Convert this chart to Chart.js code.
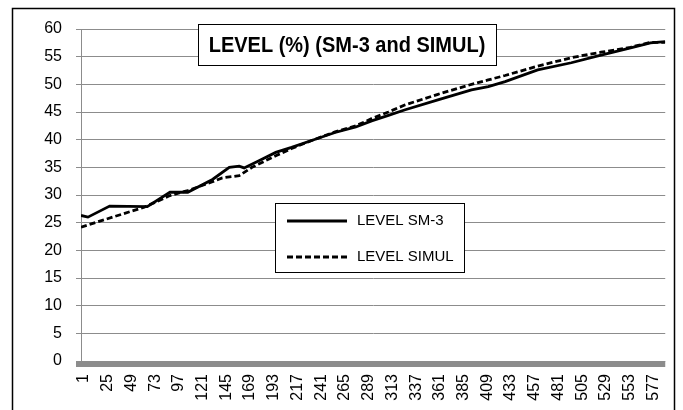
<!DOCTYPE html>
<html>
<head>
<meta charset="utf-8">
<title>LEVEL (%) (SM-3 and SIMUL)</title>
<script src="https://cdn.jsdelivr.net/npm/chart.js@4/dist/chart.umd.min.js"></script>
<style>
  html, body { margin: 0; padding: 0; background: #fff; }
  canvas { display: block; }
</style>
</head>
<body>
<canvas id="levelChart" width="683" height="410"></canvas>
<script>
// --- Data ---
const CHART_TITLE = "LEVEL (%) (SM-3 and SIMUL)";

// sample index (1..592) where each value was read
const sm3Index = [1, 8, 30, 68, 91, 109, 134, 151, 161, 166, 181, 198, 214, 235, 258, 279, 295, 312, 329, 362, 396, 413, 430, 463, 497, 523, 557, 577, 592];
const sm3Level = [26.3, 26.0, 28.0, 27.9, 30.5, 30.5, 32.8, 35.0, 35.2, 34.9, 36.2, 37.7, 38.6, 39.9, 41.3, 42.3, 43.4, 44.4, 45.4, 47.2, 49.0, 49.6, 50.5, 52.6, 53.9, 55.1, 56.6, 57.5, 57.7];

const simulIndex = [1, 65, 91, 109, 134, 144, 161, 174, 198, 214, 235, 258, 279, 295, 312, 329, 362, 396, 413, 430, 463, 497, 514, 527, 557, 577, 592];
const simulLevel = [24.2, 27.8, 29.9, 30.8, 32.4, 33.1, 33.5, 35.0, 37.1, 38.4, 39.9, 41.4, 42.5, 43.8, 45.0, 46.3, 48.2, 50.0, 50.8, 51.6, 53.3, 54.8, 55.4, 55.8, 56.7, 57.6, 57.6];

const seriesLabels = ["LEVEL SM-3", "LEVEL SIMUL"];
const xTickLabels = [1, 25, 49, 73, 97, 121, 145, 169, 193, 217, 241, 265, 289, 313, 337, 361, 385, 409, 433, 457, 481, 505, 529, 553, 577];
const X_FIRST = 1;
const X_LAST = 592;

const GRID_GRAY = '#8c8c8c';

function toPoints(xs, ys) {
    return xs.map((x, i) => ({ x: x, y: ys[i] }));
}

// --- Extras: floor band, title box, legend box, outer frame ---
const excelLook = {
    id: 'excelLook',
    beforeDatasetsDraw(chart) {
        const ctx = chart.ctx;
        const area = chart.chartArea;
        const y0 = chart.scales.y.getPixelForValue(0);
        ctx.save();
        ctx.fillStyle = GRID_GRAY;
        ctx.fillRect(area.left - 5, y0, area.right - area.left + 5, 6);
        ctx.restore();
    },
    afterDraw(chart) {
        const ctx = chart.ctx;
        ctx.save();

        // title box
        ctx.fillStyle = '#fff';
        ctx.fillRect(198, 24, 298, 41);
        ctx.strokeStyle = '#000';
        ctx.lineWidth = 1;
        ctx.strokeRect(198.5, 24.5, 298, 41);
        ctx.fillStyle = '#000';
        ctx.font = 'bold 20px "Liberation Sans", Arial, sans-serif';
        ctx.textAlign = 'center';
        ctx.textBaseline = 'middle';
        // a little taller than wide, like the narrow original face
        ctx.translate(347, 46);
        ctx.scale(1, 1.12);
        ctx.fillText(CHART_TITLE, 0, 0);
        ctx.setTransform(1, 0, 0, 1, 0, 0);

        // legend box
        ctx.fillStyle = '#fff';
        ctx.fillRect(275, 203, 189, 69);
        ctx.strokeRect(275.5, 203.5, 189, 69);
        ctx.font = '15px "Liberation Sans", Arial, sans-serif';
        ctx.textAlign = 'left';
        chart.data.datasets.forEach((ds, i) => {
            const y = 221 + i * 36;
            ctx.beginPath();
            ctx.setLineDash(ds.borderDash || []);
            ctx.lineWidth = 3;
            ctx.strokeStyle = ds.borderColor;
            ctx.moveTo(287, y);
            ctx.lineTo(347, y);
            ctx.stroke();
            ctx.setLineDash([]);
            ctx.fillStyle = '#000';
            ctx.fillText(ds.label, 357, y);
        });

        // outer chart frame
        ctx.lineWidth = 1.5;
        ctx.strokeStyle = '#000';
        ctx.strokeRect(12.5, 8.5, 662, 420);
        ctx.restore();
    }
};

const ctx = document.getElementById('levelChart').getContext('2d');
const levelChart = new Chart(ctx, {
    type: 'line',
    data: {
        datasets: [{
            label: seriesLabels[0],
            data: toPoints(sm3Index, sm3Level),
            borderColor: '#000',
            borderWidth: 2.8,
            pointRadius: 0,
            tension: 0,
            fill: false
        }, {
            label: seriesLabels[1],
            data: toPoints(simulIndex, simulLevel),
            borderColor: '#000',
            borderWidth: 2.8,
            borderDash: [6, 3],
            pointRadius: 0,
            tension: 0,
            fill: false
        }]
    },
    options: {
        responsive: false,
        animation: false,
        layout: {
            padding: { top: 29, right: 15, left: 0, bottom: 0 }
        },
        scales: {
            x: {
                type: 'linear',
                min: X_FIRST,
                max: X_LAST,
                afterBuildTicks: (scale) => {
                    scale.ticks = xTickLabels.map(v => ({ value: v }));
                },
                afterFit: (scale) => { scale.height = 49; },
                grid: { display: false, drawTicks: false },
                border: { display: false },
                ticks: {
                    autoSkip: false,
                    minRotation: 90,
                    maxRotation: 90,
                    padding: 13,
                    labelOffset: 3,
                    color: '#000',
                    font: { family: '"Liberation Sans", Arial, sans-serif', size: 16 },
                    callback: (value) => String(value)
                }
            },
            y: {
                min: 0,
                max: 60,
                afterFit: (scale) => { scale.width = 81; },
                grid: { color: GRID_GRAY, lineWidth: 1, tickLength: 5 },
                border: { color: GRID_GRAY, width: 1 },
                ticks: {
                    stepSize: 5,
                    padding: 14,
                    color: '#000',
                    font: { family: '"Liberation Sans", Arial, sans-serif', size: 16 }
                }
            }
        },
        plugins: {
            legend: { display: false },
            title: { display: false },
            tooltip: { enabled: false }
        }
    },
    plugins: [excelLook]
});
</script>
</body>
</html>
